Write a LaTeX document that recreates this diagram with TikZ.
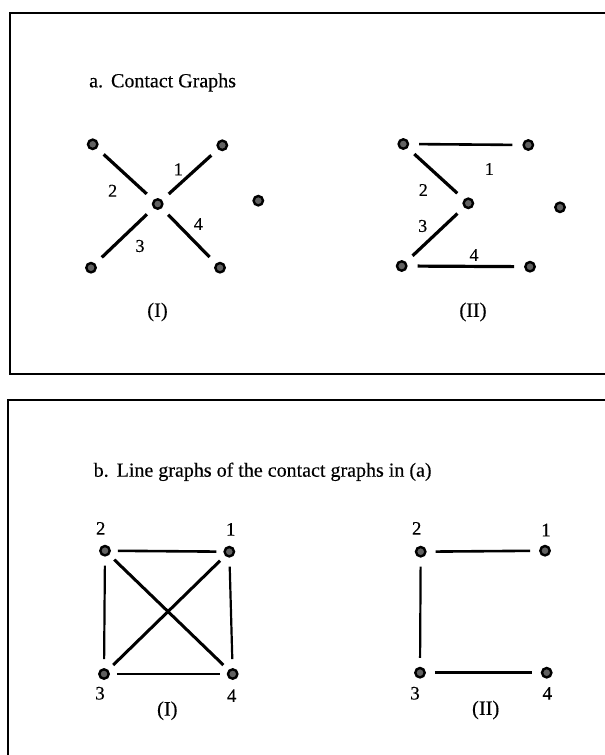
\documentclass[tikz,border=0pt]{standalone}
\usepackage{fontspec}
\setmainfont[FakeBold=0.3]{Liberation Serif}
\begin{document}
\begin{tikzpicture}[x=1pt,y=-1pt,
  vtx/.style={circle,fill=black!62,draw=black,line width=2.4pt,minimum size=9.4pt,inner sep=0pt},
  thk/.style={line width=3.2pt,shorten >=9pt,shorten <=9pt},
  med/.style={line width=2.6pt,shorten >=10pt,shorten <=10pt},
  thn/.style={line width=2.2pt,shorten >=9pt,shorten <=9pt},
  bthk/.style={line width=3pt,shorten >=7pt,shorten <=7pt},
  bmed/.style={line width=2.6pt,shorten >=7pt,shorten <=7pt},
  lbl/.style={font=\fontsize{18}{20}\selectfont,inner sep=0pt},
  lblb/.style={font=\fontsize{19}{21}\selectfont,inner sep=0pt},
  ttl/.style={font=\fontsize{20}{24}\selectfont,inner sep=0pt,anchor=base west},
  rom/.style={font=\fontsize{20.5}{24}\selectfont,inner sep=0pt},
  frame/.style={line width=2pt}]
\clip (0,0) rectangle (605,755);
\fill[white] (0,0) rectangle (605,755);
\draw[frame] (10,12.5) rectangle (640,374);
\draw[frame] (8,399.5) rectangle (640,800);

% ---------- panel a ----------
\node[ttl] (ta) at (89,87.3) {a.\hspace{0.4em}Contact Graphs};

% (I)
\node[vtx] (aItl) at (92.7,144.3) {};
\node[vtx] (aItr) at (222.3,145.3) {};
\node[vtx] (aIc)  at (157.7,204) {};
\node[vtx] (aIbl) at (91,267.7) {};
\node[vtx] (aIbr) at (220,267.7) {};
\node[vtx] (aIiso) at (258.3,200.7) {};
\draw[thk] (aItl) -- (aIc);
\draw[thk] (aIc) -- (aItr);
\draw[thk] (aIbl) -- (aIc);
\draw[thk] (aIc) -- (aIbr);
\node[lbl] (aIl1) at (178.3,169.3) {1};
\node[lbl] (aIl2) at (112.7,190.7) {2};
\node[lbl] (aIl3) at (140,246) {3};
\node[lbl] (aIl4) at (198.3,224) {4};
\node[rom] (aIcap) at (157.5,312) {(I)};

% (II)
\node[vtx] (aIItl) at (403.3,144) {};
\node[vtx] (aIItr) at (528.3,145) {};
\node[vtx] (aIIc)  at (468.3,203.3) {};
\node[vtx] (aIIiso) at (560,207.3) {};
\node[vtx] (aIIbl) at (401.7,266) {};
\node[vtx] (aIIbr) at (530,266.7) {};
\draw[med] (aIItl) -- (aIItr);
\draw[thk] (aIItl) -- (aIIc);
\draw[thk] (aIIbl) -- (aIIc);
\draw[thk,shorten >=10pt,shorten <=10pt] (aIIbl) -- (aIIbr);
\node[lbl] (aIIl1) at (489.3,169) {1};
\node[lbl] (aIIl2) at (423.3,190) {2};
\node[lbl] (aIIl3) at (422.7,226) {3};
\node[lbl] (aIIl4) at (474,255) {4};
\node[rom] (aIIcap) at (473,312) {(II)};

% ---------- panel b ----------
\node[ttl] (tb) at (93.5,476.7) {b.\hspace{0.4em}Line graphs of the contact graphs in (a)};

% (I)
\node[vtx] (bI2) at (105,550.7) {};
\node[vtx] (bI1) at (229.3,551.7) {};
\node[vtx] (bI3) at (104,674) {};
\node[vtx] (bI4) at (232.7,674) {};
\draw[bmed] (bI2) -- (bI1);
\draw[thn] (bI2) -- (bI3);
\draw[thn] (bI1) -- (bI4);
\draw[bmed,line width=2.9pt] (bI3) -- (bI4);
\draw[bthk] (bI2) -- (bI4);
\draw[bthk] (bI1) -- (bI3);
\node[lblb] (bIl2) at (100.7,528.3) {2};
\node[lblb] (bIl1) at (230.7,529.3) {1};
\node[lblb] (bIl3) at (100,693.3) {3};
\node[lblb] (bIl4) at (231.7,695.7) {4};
\node[rom] (bIcap) at (167.3,710.7) {(I)};

% (II)
\node[vtx] (bII2) at (420.7,551.7) {};
\node[vtx] (bII1) at (545,550.7) {};
\node[vtx] (bII3) at (420,672.7) {};
\node[vtx] (bII4) at (546.7,672.7) {};
\draw[bmed,shorten >=9pt,shorten <=9pt] (bII2) -- (bII1);
\draw[thn] (bII2) -- (bII3);
\draw[bmed,shorten >=9pt,shorten <=9pt] (bII3) -- (bII4);
\node[lblb] (bIIl2) at (416.7,528.3) {2};
\node[lblb] (bIIl1) at (546,530) {1};
\node[lblb] (bIIl3) at (415,693.3) {3};
\node[lblb] (bIIl4) at (547.3,693.3) {4};
\node[rom] (bIIcap) at (485.7,710) {(II)};
\end{tikzpicture}
\end{document}
